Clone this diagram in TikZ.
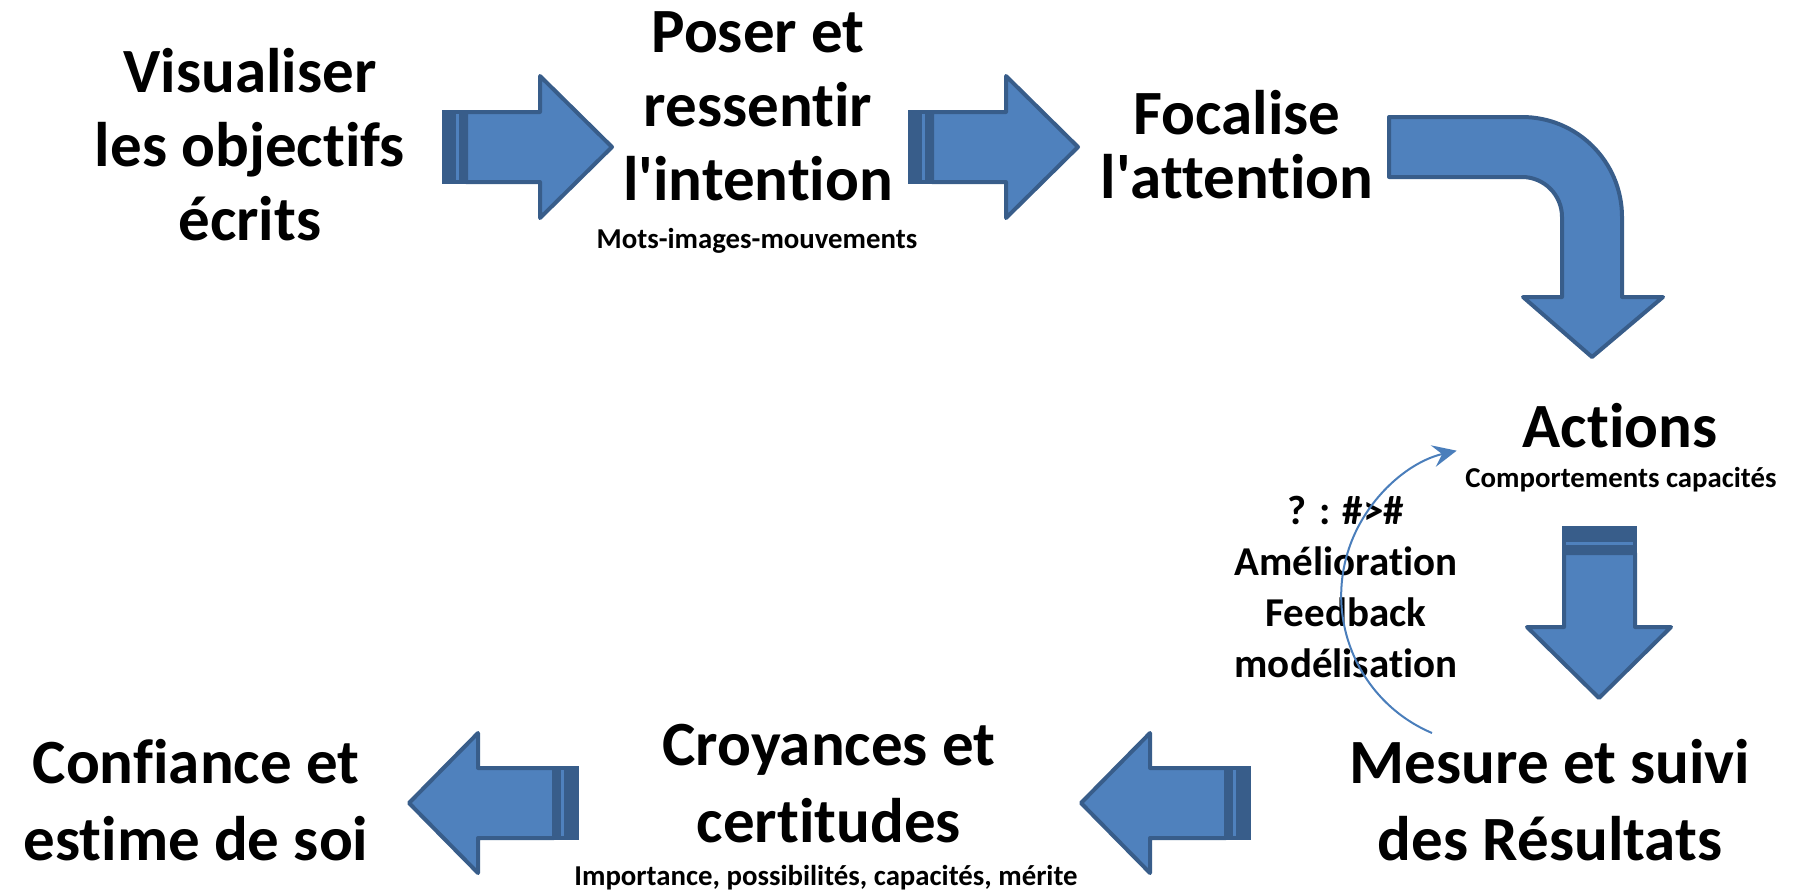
\documentclass[tikz,border=0pt]{standalone}
\usepackage{fontspec}
\setmainfont{Carlito}[Ligatures={NoCommon}]
\usetikzlibrary{arrows.meta}
\definecolor{arrowfill}{HTML}{4F81BD}
\definecolor{arrowline}{HTML}{385D8A}
\definecolor{fbblue}{HTML}{4A7EBB}

\begin{document}
\begin{tikzpicture}[
    x=1pt, y=-1pt,
    big/.style={font=\bfseries\fontsize{63}{74}\selectfont, align=center, anchor=base, inner sep=0pt},
    mid/.style={font=\bfseries\fontsize{41}{51}\selectfont, align=center, anchor=base, inner sep=0pt},
    subtitle/.style={font=\bfseries\fontsize{28.8}{32}\selectfont, anchor=base, inner sep=0pt},
    blockarrow/.style={fill=arrowfill, draw=arrowline, line width=4pt, line join=round},
    stripes/.style={fill=arrowline},
    gapline/.style={draw=arrowfill, line width=3pt},
    loopback/.style={draw=fbblue, line width=2pt, -{Stealth[length=24pt, width=22pt, inset=9pt]}}
  ]
  \useasboundingbox (0,0) rectangle (1796,895);

  % top row (multi-line nodes sit on their last baseline)
  \node[big] (visu) at (250,240) {Visualiser\\les objectifs\\écrits};
  \node[big] (poser) at (758,200) {Poser et\\ressentir\\l\textquotesingle intention};
  \node[subtitle] (mots) at (757,248) {Mots-images-mouvements};
  \node[big, font=\bfseries\fontsize{63}{64}\selectfont] (focal) at (1237,198) {Focalise\\l\textquotesingle attention};

  % right side
  \node[big] (actions) at (1620,447) {Actions};
  \node[subtitle] (comport) at (1621,487) {Comportements capacités};
  \node[mid] (feedback) at (1346,677) {? : \#>\#\\Amélioration\\Feedback\\modélisation};

  % bottom row
  \node[big, font=\bfseries\fontsize{63}{77}\selectfont] (mesure) at (1550,860) {Mesure et suivi\\des Résultats};
  \node[big, font=\bfseries\fontsize{63}{77}\selectfont] (croy) at (829,842) {Croyances et\\certitudes};
  \node[subtitle] (import) at (826,885) {Importance, possibilités, capacités, mérite};
  \node[big, font=\bfseries\fontsize{63}{77}\selectfont] (conf) at (196,860) {Confiance et\\estime de soi};

  % striped arrows to the right
  \foreach \dx in {0,466} {
    \begin{scope}[shift={(\dx,0)}]
      \fill[stripes] (442,110) rectangle (468,184);
      \draw[gapline] (457,114) -- (457,180);
      \filldraw[blockarrow] (466,112) -- (540,112) -- (540,76) -- (612,147)
        -- (540,218) -- (540,182) -- (466,182) -- cycle;
    \end{scope}
  }

  % bent arrow down to the actions
  \filldraw[blockarrow] (1389,117) -- (1522,117) arc[start angle=90, end angle=0, radius=100pt]
    -- (1622,297) -- (1663,297) -- (1592,357) -- (1523,297) -- (1562,297) -- (1562,217)
    arc[start angle=0, end angle=90, radius=40pt] -- (1389,177) -- cycle;

  % striped arrow down
  \fill[stripes] (1562,526) rectangle (1637,555);
  \draw[gapline] (1566,543) -- (1633,543);
  \filldraw[blockarrow] (1564,553) -- (1564,627) -- (1527,627) -- (1599,698)
    -- (1671,627) -- (1635,627) -- (1635,553) -- cycle;

  % striped arrows to the left
  \foreach \dx in {0,-672} {
    \begin{scope}[shift={(\dx,0)}]
      \fill[stripes] (1224,766) rectangle (1251,840);
      \draw[gapline] (1234,770) -- (1234,836);
      \filldraw[blockarrow] (1226,768) -- (1150,768) -- (1150,733) -- (1081,803)
        -- (1150,873) -- (1150,838) -- (1226,838) -- cycle;
    \end{scope}
  }

  % feedback loop back to the actions
  \coordinate (fbstart) at (1432,733);
  \draw[loopback] (fbstart) arc[start angle=247, end angle=103, radius=149pt];
\end{tikzpicture}
\end{document}
